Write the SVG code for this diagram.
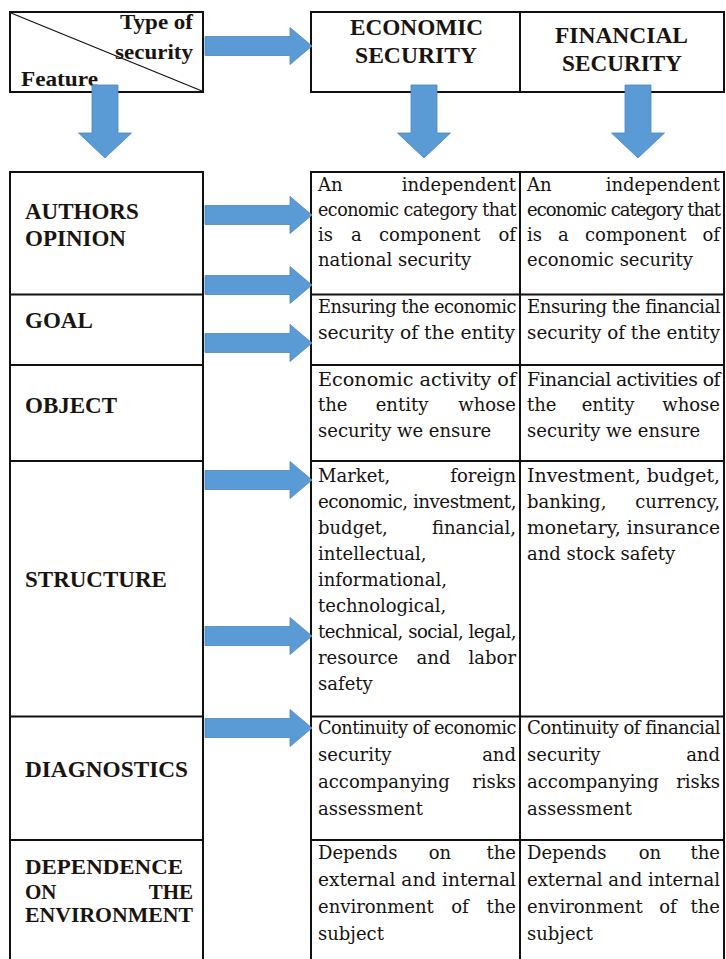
<svg xmlns="http://www.w3.org/2000/svg" xmlns:xlink="http://www.w3.org/1999/xlink" width="726" height="959" viewBox="0 0 726 959">
<style>
.box{fill:#fff;stroke:#111;stroke-width:2}
.ln{stroke:#111;stroke-width:2;fill:none}
.arr{fill:#5B9BD5;stroke:#4A86C0;stroke-width:0.8}
.l{font-family:"Liberation Serif",serif;font-weight:bold;font-size:23px;fill:#1a1410}
.s{font-size:21px}
.h{font-family:"Liberation Serif",serif;font-weight:bold;font-size:21px;fill:#1a1410}
.b{font-family:"DejaVu Serif",serif;font-size:18px;fill:#161210}
.c{letter-spacing:-0.5px}
.c2{letter-spacing:-1px}
.e{text-anchor:end}
.m{text-anchor:middle}
</style>
<defs>
<path id="ra" d="M0,-9.5 H85 V-18.5 L107,0 L85,18.5 V9.5 H0 Z"/>
<path id="da" d="M-13,0 V48 H-26.5 L0,73 L26.5,48 H13 V0 Z"/>
</defs>
<rect width="726" height="959" fill="#fff"/>

<g id="corner">
<rect class="box" x="10" y="12" width="193" height="80"/>
<line x1="11" y1="13" x2="202" y2="91" stroke="#111" stroke-width="1.2"/>
<text class="h e" x="193" y="29" textLength="73" lengthAdjust="spacingAndGlyphs">Type of</text>
<text class="h e" x="193" y="59" textLength="78" lengthAdjust="spacingAndGlyphs">security</text>
<text class="h" x="21" y="86" textLength="77" lengthAdjust="spacingAndGlyphs">Feature</text>
</g>

<g id="header">
<rect class="box" x="311" y="12" width="413" height="80"/>
<line class="ln" x1="520" y1="12" x2="520" y2="92"/>
<text class="l m" x="416.5" y="35" textLength="133" lengthAdjust="spacingAndGlyphs">ECONOMIC</text>
<text class="l m" x="416" y="63" textLength="122" lengthAdjust="spacingAndGlyphs">SECURITY</text>
<text class="l m" x="621.5" y="43" textLength="133" lengthAdjust="spacingAndGlyphs">FINANCIAL</text>
<text class="l m" x="622" y="71" textLength="120" lengthAdjust="spacingAndGlyphs">SECURITY</text>
</g>

<g id="features">
<rect class="box" x="10" y="172" width="193" height="800"/>
<line class="ln" x1="10" y1="294.5" x2="203" y2="294.5"/>
<line class="ln" x1="10" y1="365" x2="203" y2="365"/>
<line class="ln" x1="10" y1="461" x2="203" y2="461"/>
<line class="ln" x1="10" y1="716.5" x2="203" y2="716.5"/>
<line class="ln" x1="10" y1="840" x2="203" y2="840"/>
<text class="l" x="25" y="219">AUTHORS</text>
<text class="l" x="25" y="246">OPINION</text>
<text class="l" x="25" y="328">GOAL</text>
<text class="l" x="25" y="413">OBJECT</text>
<text class="l" x="25" y="587">STRUCTURE</text>
<text class="l" x="25" y="777" textLength="163" lengthAdjust="spacingAndGlyphs">DIAGNOSTICS</text>
<text class="l s" x="25" y="874" textLength="158" lengthAdjust="spacingAndGlyphs">DEPENDENCE</text>
<text class="l s" x="25" y="898.5">ON</text>
<text class="l s e" x="193" y="898.5">THE</text>
<text class="l s" x="25" y="922" textLength="168" lengthAdjust="spacingAndGlyphs">ENVIRONMENT</text>
</g>

<g id="table">
<rect class="box" x="311" y="172" width="413" height="800"/>
<line class="ln" x1="520" y1="172" x2="520" y2="972"/>
<line class="ln" x1="311" y1="294.5" x2="724" y2="294.5"/>
<line class="ln" x1="311" y1="365" x2="724" y2="365"/>
<line class="ln" x1="311" y1="461" x2="724" y2="461"/>
<line class="ln" x1="311" y1="716.5" x2="724" y2="716.5"/>
<line class="ln" x1="311" y1="840" x2="724" y2="840"/>
</g>

<g id="economic-cells">
<text class="b" x="318" y="190.5">An</text>
<text class="b e" x="516" y="190.5">independent</text>
<text class="b c" x="318" y="215.5" textLength="198" lengthAdjust="spacingAndGlyphs">economic category that</text>
<text class="b" x="318" y="240.5">is</text>
<text class="b" x="351" y="240.5">a</text>
<text class="b" x="379" y="240.5">component</text>
<text class="b e" x="516" y="240.5">of</text>
<text class="b" x="318" y="266">national security</text>

<text class="b c" x="318" y="313" textLength="198" lengthAdjust="spacingAndGlyphs">Ensuring the economic</text>
<text class="b" x="318" y="339" textLength="197" lengthAdjust="spacingAndGlyphs">security of the entity</text>

<text class="b" x="318" y="385.5" textLength="198" lengthAdjust="spacingAndGlyphs">Economic activity of</text>
<text class="b" x="318" y="411">the</text>
<text class="b m" x="402" y="411">entity</text>
<text class="b e" x="516" y="411">whose</text>
<text class="b" x="318" y="436.5">security we ensure</text>

<text class="b" x="318" y="481.5">Market,</text>
<text class="b e" x="516" y="481.5">foreign</text>
<text class="b c" x="318" y="507.5" textLength="198" lengthAdjust="spacingAndGlyphs">economic, investment,</text>
<text class="b" x="318" y="533.5">budget,</text>
<text class="b e" x="516" y="533.5">financial,</text>
<text class="b" x="318" y="559.5">intellectual,</text>
<text class="b" x="318" y="585.5">informational,</text>
<text class="b" x="318" y="611.5">technological,</text>
<text class="b c" x="318" y="637.5" textLength="198" lengthAdjust="spacingAndGlyphs">technical, social, legal,</text>
<text class="b" x="318" y="663.5">resource</text>
<text class="b m" x="433.5" y="663.5">and</text>
<text class="b e" x="516" y="663.5">labor</text>
<text class="b" x="318" y="689.5">safety</text>

<text class="b c" x="318" y="734" textLength="198" lengthAdjust="spacingAndGlyphs">Continuity of economic</text>
<text class="b" x="318" y="761">security</text>
<text class="b e" x="516" y="761">and</text>
<text class="b" x="318" y="788">accompanying</text>
<text class="b e" x="516" y="788">risks</text>
<text class="b" x="318" y="815">assessment</text>

<text class="b" x="318" y="859">Depends</text>
<text class="b m" x="440" y="859">on</text>
<text class="b e" x="516" y="859">the</text>
<text class="b" x="318" y="886" textLength="198" lengthAdjust="spacingAndGlyphs">external and internal</text>
<text class="b" x="318" y="913">environment</text>
<text class="b m" x="460" y="913">of</text>
<text class="b e" x="516" y="913">the</text>
<text class="b" x="318" y="940">subject</text>
</g>

<g id="financial-cells">
<text class="b" x="527" y="190.5">An</text>
<text class="b e" x="720" y="190.5">independent</text>
<text class="b c2" x="527" y="215.5" textLength="193" lengthAdjust="spacingAndGlyphs">economic category that</text>
<text class="b" x="527" y="240.5">is</text>
<text class="b" x="558" y="240.5">a</text>
<text class="b" x="585" y="240.5">component</text>
<text class="b e" x="720" y="240.5">of</text>
<text class="b" x="527" y="266">economic security</text>

<text class="b c" x="527" y="313" textLength="193" lengthAdjust="spacingAndGlyphs">Ensuring the financial</text>
<text class="b" x="527" y="339" textLength="193" lengthAdjust="spacingAndGlyphs">security of the entity</text>

<text class="b c" x="527" y="385.5" textLength="193" lengthAdjust="spacingAndGlyphs">Financial activities of</text>
<text class="b" x="527" y="411">the</text>
<text class="b m" x="608" y="411">entity</text>
<text class="b e" x="720" y="411">whose</text>
<text class="b" x="527" y="436.5">security we ensure</text>

<text class="b" x="527" y="481.5" textLength="193" lengthAdjust="spacingAndGlyphs">Investment, budget,</text>
<text class="b" x="527" y="507.5">banking,</text>
<text class="b e" x="720" y="507.5">currency,</text>
<text class="b" x="527" y="533.5" textLength="193" lengthAdjust="spacingAndGlyphs">monetary, insurance</text>
<text class="b" x="527" y="559.5">and stock safety</text>

<text class="b c" x="527" y="734" textLength="193" lengthAdjust="spacingAndGlyphs">Continuity of financial</text>
<text class="b" x="527" y="761">security</text>
<text class="b e" x="720" y="761">and</text>
<text class="b" x="527" y="788">accompanying</text>
<text class="b e" x="720" y="788">risks</text>
<text class="b" x="527" y="815">assessment</text>

<text class="b" x="527" y="859">Depends</text>
<text class="b m" x="650" y="859">on</text>
<text class="b e" x="720" y="859">the</text>
<text class="b" x="527" y="886" textLength="193" lengthAdjust="spacingAndGlyphs">external and internal</text>
<text class="b" x="527" y="913">environment</text>
<text class="b m" x="668" y="913">of</text>
<text class="b e" x="720" y="913">the</text>
<text class="b" x="527" y="940">subject</text>
</g>

<g id="connectors">
<use class="arr" xlink:href="#ra" href="#ra" x="205" y="46"/>
<use class="arr" xlink:href="#da" href="#da" x="105" y="85"/>
<use class="arr" xlink:href="#da" href="#da" x="424" y="85"/>
<use class="arr" xlink:href="#da" href="#da" x="638" y="85"/>
<use class="arr" xlink:href="#ra" href="#ra" x="205" y="215"/>
<use class="arr" xlink:href="#ra" href="#ra" x="205" y="285"/>
<use class="arr" xlink:href="#ra" href="#ra" x="205" y="343"/>
<use class="arr" xlink:href="#ra" href="#ra" x="205" y="480"/>
<use class="arr" xlink:href="#ra" href="#ra" x="205" y="636"/>
<use class="arr" xlink:href="#ra" href="#ra" x="205" y="728"/>
</g>
</svg>
